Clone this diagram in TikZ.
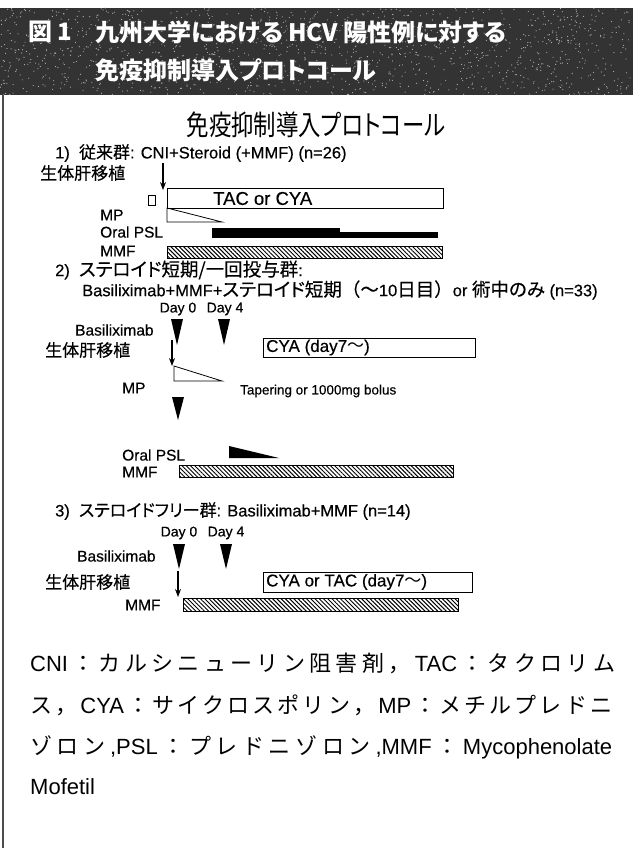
\documentclass[tikz,border=0pt]{standalone}
\usepackage{fontspec}
\setmainfont{Liberation Sans}
\newfontfamily\lat{Liberation Sans}[FakeBold=0.4]
\newfontfamily\jp{Noto Sans CJK JP}[RawFeature=+palt]
\newfontfamily\jpl{Noto Sans CJK JP}[RawFeature=+palt,FakeBold=0.3]
\newfontfamily\jpw{Noto Sans CJK JP}[FakeBold=0.3]
\newfontfamily\jpt{Noto Sans CJK JP}[RawFeature=+palt,FakeStretch=0.8]
\newfontfamily\jpc{Noto Sans CJK JP}
\usetikzlibrary{patterns.meta,arrows.meta}
\newcommand{\J}[1]{{\jpl\fontsize{18.5}{18.5}\selectfont #1}}
\newcommand{\Jm}[1]{{\jpl\fontsize{17}{17}\selectfont #1}}
\newcommand{\JW}[1]{{\jpw\fontsize{18.5}{18.5}\selectfont #1}}
\newXeTeXintercharclass\cjkc
\def\setcjk#1{\ifx#1\relax\else\XeTeXcharclass`#1=\cjkc\relax\expandafter\setcjk\fi}
\setcjk カルシニューリン阻害剤タクロリムスサイクロスポリンメチルプレドニゾロン：，\relax
\XeTeXinterchartoks\cjkc\cjkc={\hskip0pt plus 1fil\relax}
\XeTeXinterchartoks0\cjkc={\jpc\hskip0pt plus 1fil\relax}
\XeTeXinterchartoks\cjkc0={\rmfamily\hskip0pt plus 1fil\relax}
\definecolor{hdr}{gray}{0.2}
\tikzset{
  hdtext/.style={anchor=west,inner sep=0pt,text=white,font=\jp\bfseries\fontsize{24}{24}\selectfont},
  ttl/.style={inner sep=0pt,font=\jpt\fontsize{28}{28}\selectfont},
  head/.style={anchor=west,inner sep=0pt,font=\lat\fontsize{16.5}{16.5}\selectfont},
  lab/.style={anchor=west,inner sep=0pt,font=\lat\fontsize{15.5}{15.5}\selectfont},
  jlab/.style={anchor=west,inner sep=0pt,font=\jpl\fontsize{17}{17}\selectfont},
  day/.style={inner sep=0pt,font=\lat\fontsize{14}{14}\selectfont},
  small/.style={anchor=west,inner sep=0pt,font=\lat\fontsize{13.5}{13.5}\selectfont},
  boxtext/.style={anchor=west,inner sep=0pt,font=\lat\fontsize{17}{17}\selectfont},
  drugbox/.style={draw=black,line width=0.9pt,anchor=north west,inner sep=0pt},
  dose/.style={draw=black,line width=0.8pt},
  hatchbar/.style={draw=black,line width=0.6pt,pattern={Lines[angle=-45,distance=3pt,line width=1pt]}},
  txarrow/.style={line width=1.2pt,-{Stealth[length=8pt,width=6pt]}},
  captionline/.style={anchor=west,inner sep=0pt,font=\fontsize{22}{22}\selectfont},
  frame/.style={line width=1.2pt,draw=black!70}
}
\begin{document}
\begin{tikzpicture}[x=1pt,y=-1pt]
\useasboundingbox (0,0) rectangle (633,848);
\fill[white] (0,0) rectangle (633,848);
% header band
\fill[hdr] (0,8) rectangle (633,95);
\pgfmathsetseed{11}
\foreach \i in {1,...,1400} \fill[gray!60] ({rnd*633},{8+rnd*87}) circle (0.6);
\node[hdtext] (fig) at (28,32) {図 1};
\node[hdtext] (h1) at (95,32) {九州大学における HCV 陽性例に対する};
\node[hdtext] (h2) at (95,70) {免疫抑制導入プロトコール};
\draw[frame] (3,95) -- (3,848);
% title
\node[ttl] (title) at (316,125) {免疫抑制導入プロトコール};
% ---------- section 1
\node[head] (s1) at (55,153) {1)\ \ \Jm{従来群}: CNI+Steroid (+MMF) (n=26)};
\node[jlab] (lt1) at (40,173) {生体肝移植};
\coordinate (a1s) at (163,163); \coordinate (a1e) at (163,190);
\draw[txarrow] (a1s) -- (a1e);
\node[draw,line width=0.8pt,minimum width=7pt,minimum height=10pt,inner sep=0pt] (sq) at (151.5,200) {};
\node[drugbox,minimum width=276pt,minimum height=20pt] (tac) at (167,188) {};
\node[boxtext,font=\lat\fontsize{18.5}{18.5}\selectfont] (tact) at (213,198.5) {TAC or CYA};
\node[lab] (mp1) at (100,215) {MP};
\draw[dose] (167,208) -- (167,222) -- (222,222) -- cycle;
\node[lab] (psl1) at (100,232) {Oral PSL};
\fill (212,228) rectangle (340,238);
\fill (340,232) rectangle (438,238);
\node[lab] (mmf1) at (100,251) {MMF};
\path[hatchbar] (167,246) rectangle (442,258);
% ---------- section 2
\node[head] (s2) at (55,270) {2)\ \ \J{ステロイド短期/一回投与群}:};
\node[head] (s2b) at (82,290) {Basiliximab+MMF+\J{ステロイド短期}\JW{（〜}10\JW{日目）}or \J{術中のみ} (n=33)};
\node[day] (d0a) at (178,309) {Day 0};
\node[day] (d4a) at (225,309) {Day 4};
\node[lab] (bx2) at (75,330) {Basiliximab};
\fill (171,319) -- (183,319) -- (177,345) -- cycle;
\fill (218,319) -- (230,319) -- (224,345) -- cycle;
\node[jlab] (lt2) at (45,350) {生体肝移植};
\coordinate (a2s) at (172,340); \coordinate (a2e) at (172,366);
\draw[txarrow] (a2s) -- (a2e);
\node[drugbox,minimum width=212pt,minimum height=19pt] (cya2) at (263,338) {};
\node[boxtext] (cya2t) at (266,347.5) {CYA (day7{\jp 〜})};
\draw[dose] (174,366) -- (174,381) -- (222,381) -- cycle;
\node[lab] (mp2) at (122,388) {MP};
\node[small] (tap) at (240,391) {Tapering or 1000mg bolus};
\fill (172,397) -- (184,397) -- (178,420) -- cycle;
\node[lab] (psl2) at (122,455) {Oral PSL};
\fill (229,446) -- (229,458) -- (279,458) -- cycle;
\node[lab] (mmf2) at (122,472) {MMF};
\path[hatchbar] (179,465) rectangle (453,477);
% ---------- section 3
\node[head] (s3) at (55,511) {3)\ \ \Jm{ステロイドフリー群}: Basiliximab+MMF (n=14)};
\node[day] (d0b) at (179,533) {Day 0};
\node[day] (d4b) at (226,533) {Day 4};
\node[lab] (bx3) at (77,556) {Basiliximab};
\fill (173,544) -- (185,544) -- (179,569) -- cycle;
\fill (220,544) -- (232,544) -- (226,569) -- cycle;
\node[jlab] (lt3) at (45,582) {生体肝移植};
\coordinate (a3s) at (178,571); \coordinate (a3e) at (178,597);
\draw[txarrow] (a3s) -- (a3e);
\node[drugbox,minimum width=209pt,minimum height=20pt] (cya3) at (263,572) {};
\node[boxtext] (cya3t) at (266,582) {CYA or TAC (day7{\jp 〜})};
\node[lab] (mmf3) at (125,605) {MMF};
\path[hatchbar] (183,598) rectangle (458,611);
% ---------- caption
\node[captionline] (c1) at (30,663) {\XeTeXinterchartokenstate=1 \makebox[585pt][s]{CNI：カルシニューリン阻害剤，TAC：タクロリム}};
\node[captionline] (c2) at (30,705) {\XeTeXinterchartokenstate=1 \makebox[582pt][s]{\jpc ス，CYA：サイクロスポリン，MP：メチルプレドニ}};
\node[captionline] (c3) at (30,747) {\XeTeXinterchartokenstate=1 \makebox[582pt][s]{\jpc ゾロン,PSL：プレドニゾロン,MMF：Mycophenolate}};
\node[captionline] (c4) at (30,787) {Mofetil};
\end{tikzpicture}
\end{document}
